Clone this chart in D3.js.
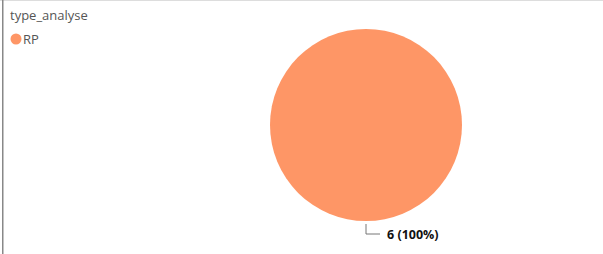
<!DOCTYPE html>
<html><head><meta charset="utf-8">
<script src="https://cdn.jsdelivr.net/npm/d3@7"></script>
<style>body{margin:0;background:#fff;}svg{display:block;font-family:"Segoe UI","Open Sans",sans-serif;}</style>
</head><body><svg id="c" width="603" height="254"></svg>
<script>
const legendTitle = "type_analyse";
const categories = ["RP"];
const values = [6];
const colors = ["#FE9666"];

const svg = d3.select("#c");
// frame
svg.append("rect").attr("x",0).attr("y",0).attr("width",603).attr("height",1).attr("fill","#ddd");
svg.append("rect").attr("x",2).attr("y",0).attr("width",1.5).attr("height",254).attr("fill","#888");

// legend
svg.append("text").attr("x",10).attr("y",20).attr("font-size",13).attr("fill","#555").text(legendTitle);
const lg = svg.selectAll("g.lg").data(categories).enter().append("g").attr("class","lg")
  .attr("transform",(d,i)=>`translate(${16+i*60},39)`);
lg.append("circle").attr("r",5.5).attr("fill",(d,i)=>colors[i]);
lg.append("text").attr("x",7).attr("y",5).attr("font-size",13).attr("fill","#555").text(d=>d);

// pie
const cx = 366, cy = 125, r = 96;
const pie = d3.pie().sort(null).value(d=>d)(values);
const arc = d3.arc().innerRadius(0).outerRadius(r);
const g = svg.append("g").attr("transform",`translate(${cx},${cy})`);
g.selectAll("path").data(pie).enter().append("path").attr("d",arc).attr("fill",(d,i)=>colors[i]);

const total = d3.sum(values);
pie.forEach((d,i)=>{
  const a = (d.startAngle+d.endAngle)/2;
  const px = Math.sin(a)*(r+3), py = -Math.cos(a)*(r+3);
  const ly = py+10;
  g.append("polyline").attr("points",`${px},${py} ${px},${ly} ${px+14},${ly}`)
    .attr("fill","none").attr("stroke","#777").attr("stroke-width",1);
  g.append("text").attr("x",px+21).attr("y",ly+4.5).attr("font-size",12.5).attr("font-weight","bold").attr("fill","#111")
    .text(`${values[i]} (${d3.format(".0%")(values[i]/total)})`);
});
</script></body></html>
